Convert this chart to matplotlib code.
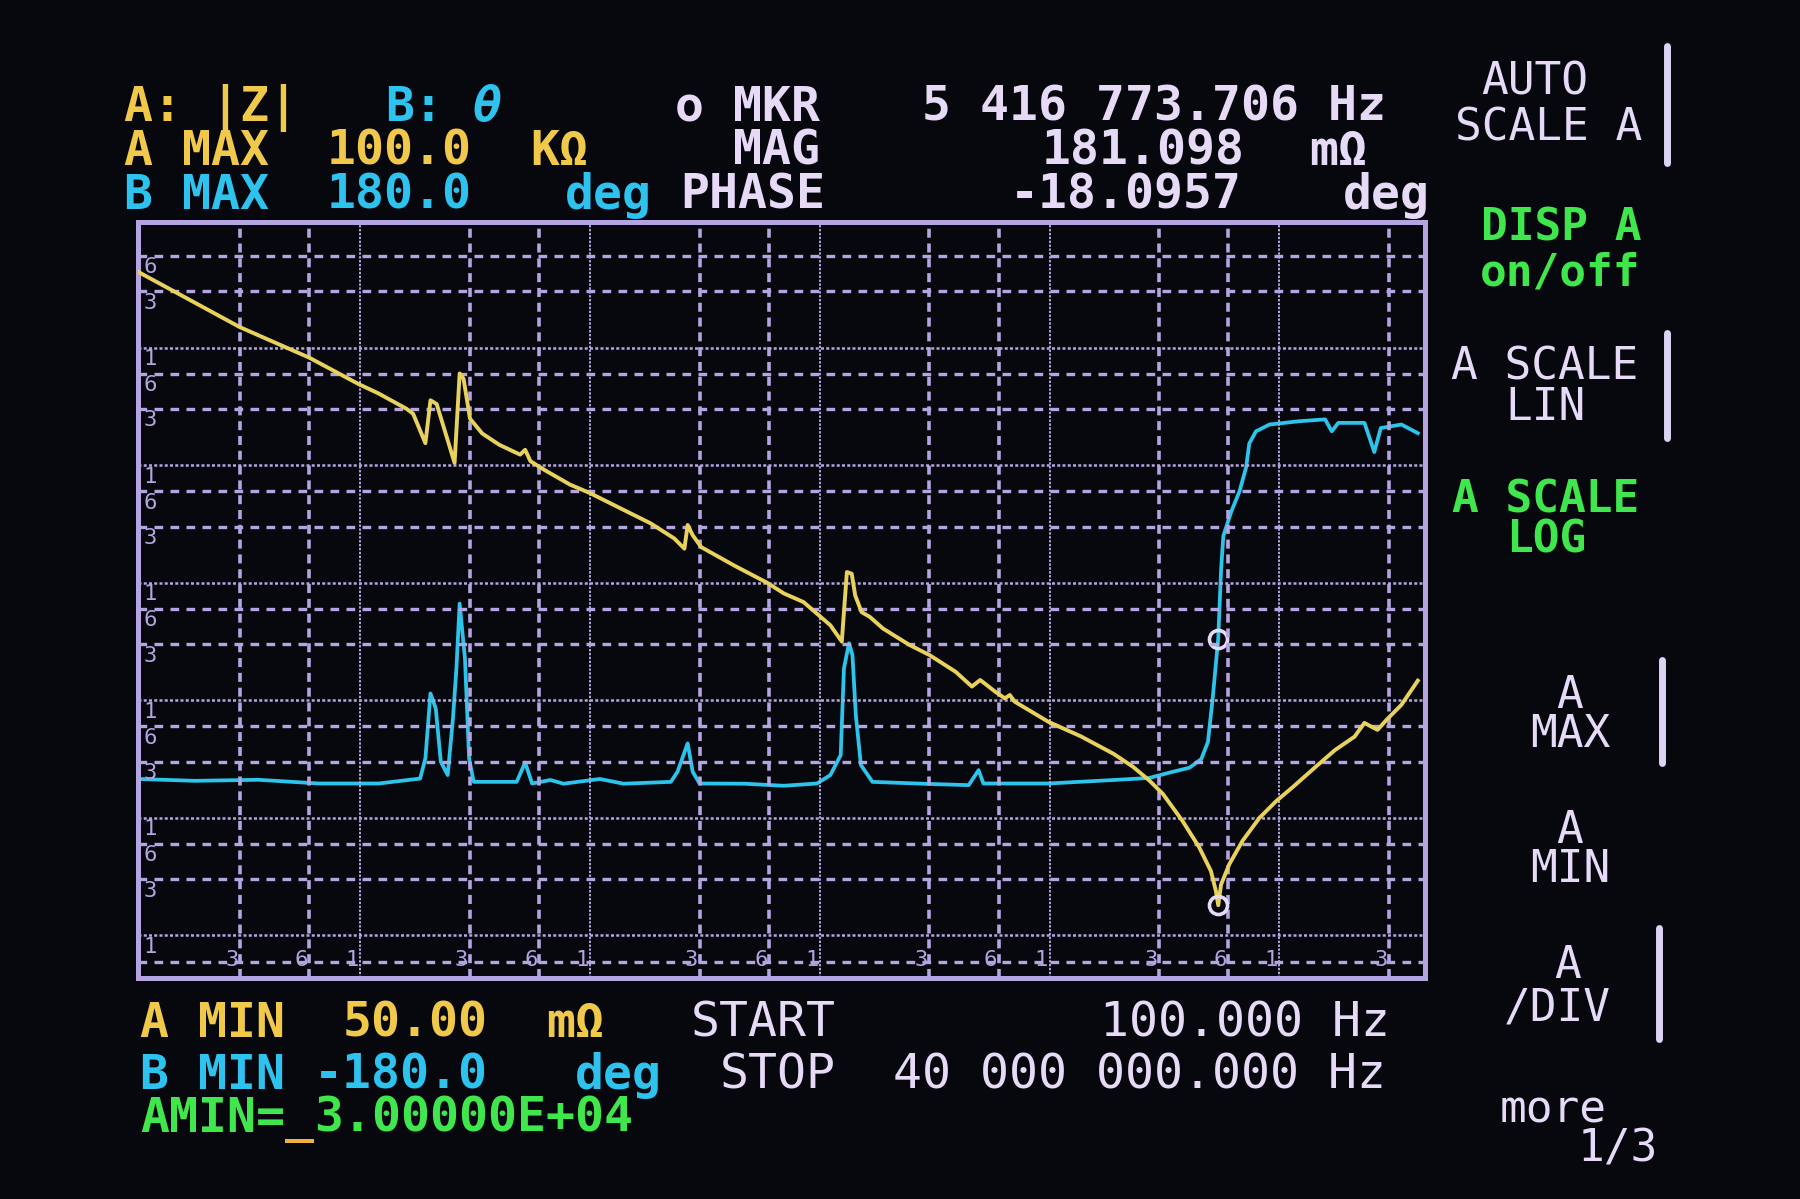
import matplotlib
matplotlib.use("Agg")
import matplotlib.pyplot as plt
import numpy as np

# ---------------- trace A : |Z| (ohm) vs frequency (Hz)
z_freq = [100, 299, 600, 980, 1205, 1590, 1700, 1923, 2023, 2153, 2576, 2710, 2818,
          3006, 3396, 4036, 4966, 5224, 5508, 6295, 8185, 10000, 13060, 18370, 23280,
          25760, 26610, 27990, 30480, 42460, 59020, 69660, 85110, 97270, 111200,
          124700, 131200, 137700, 142600, 152100, 165200, 188400, 245500, 299900,
          389900, 459200, 498900, 578100, 638300, 671400, 704700, 986300, 1368000,
          1897000, 2307000, 2716000, 3112000, 3793000, 4477000, 5035000, 5297000,
          5416774, 5572000, 6053000, 6918000, 8185000, 9683000, 11400000, 14350000,
          17460000, 21230000, 23440000, 25000000, 26730000, 29440000, 33960000, 40000000]
z_ohm = [47900, 14960, 8220, 4920, 4064, 3020, 2742, 1538, 3565, 3311, 1045, 6026, 5433,
         2489, 1862, 1489, 1230, 1352, 1081, 918, 684, 579, 446, 320, 238,
         195, 310, 254, 201, 140, 100, 81.3, 68.4, 54.5, 43.5,
         31.6, 123.3, 119.4, 78.0, 56.2, 51.2, 40.8, 29.6, 24.3,
         17.5, 13.1, 14.9, 11.9, 10.4, 11.1, 9.75, 6.58, 4.94,
         3.51, 2.72, 2.08, 1.60, 0.938, 0.562, 0.353, 0.237,
         0.181, 0.271, 0.404, 0.640, 1.00, 1.39, 1.82, 2.71,
         3.78, 4.91, 6.43, 6.00, 5.61, 6.92, 9.16, 14.7]

# ---------------- trace B : phase (deg)
p_freq = [102, 191, 361, 662, 1205, 1824, 1923, 2023, 2133, 2244, 2404, 2535, 2624,
          2710, 2858, 2979, 3119, 4797, 5224, 5598, 6730, 7674, 11040, 14000, 22490,
          24040, 26610, 27990, 29990, 46880, 69660, 97270, 111200, 123300, 127400,
          134000, 138700, 143500, 151000, 169400, 279900, 444600, 490900, 515200,
          986300, 1897000, 2716000, 3327000, 4064000, 4571000, 4887000, 5129000,
          5416774, 5572000, 5702000, 6166000, 6699000, 7161000, 7396000, 7907000,
          9057000, 12190000, 15810000, 16900000, 18030000, 23440000, 25880000,
          27610000, 33960000, 40000000]
p_deg = [-86.2, -87.2, -86.7, -88.5, -88.5, -86.1, -76.3, -44.7, -52.0, -77.9, -84.4,
         -56.8, -32.5, -1.0, -27.6, -76.3, -87.7, -87.7, -78.3, -88.5, -86.8, -88.6,
         -86.3, -88.6, -87.7, -82.8, -69.0, -82.8, -88.5, -88.6, -89.6, -88.5, -84.4,
         -74.7, -32.5, -20.3, -26.0, -55.2, -79.5, -87.7, -88.6, -89.3, -82.0, -88.5,
         -88.5, -86.8, -85.8, -83.2, -80.8, -76.6, -68.3, -46.6, -18.0957, 15.2, 31.9,
         43.6, 53.5, 65.2, 76.9, 82.8, 86.1, 87.7, 88.6, 82.8, 86.9, 86.9, 72.7, 84.4,
         86.1, 81.9]

# marker readout
mkr_freq = 5416773.706
mkr_ohm = 0.181098
mkr_deg = -18.0957

# grid lines of the screen
gx_major = [1e3, 1e4, 1e5, 1e6, 1e7]
gx_minor = [300, 600, 3e3, 6e3, 3e4, 6e4, 3e5, 6e5, 3e6, 6e6, 3e7]
gy_major = [0.1, 1, 10, 100, 1e3, 1e4]
gy_minor = [0.06, 0.3, 0.6, 3, 6, 30, 60, 300, 600, 3e3, 6e3, 3e4, 6e4]

BG = '#06080e'
YEL = '#f0c84a'
YEL_TR = '#e8d25c'
CYN = '#2ec2ee'
CYN_TR = '#2cc4ea'
LAV = '#e6daf6'
GRN = '#3fe64c'
GRID = '#b4a4e2'
MONO = 'DejaVu Sans Mono'

W, H = 1800, 1199
fig = plt.figure(figsize=(18, 11.99), dpi=100, facecolor=BG)

# plot box: x 138..1425 px, y 222..978 px (photo is a bit out of square,
# so the limits are a best fit of the screen grid)
ax = fig.add_axes([138 / W, 1 - 978 / H, 1287 / W, 756 / H])
ax.set_facecolor(BG)
ax.set_xscale('log')
ax.set_yscale('log')
ax.set_xlim(108, 4.3e7)
ax.set_ylim(0.0435, 1.17e5)
ax.set_xticks(gx_major)
ax.set_xticks(gx_minor, minor=True)
ax.set_yticks(gy_major)
ax.set_yticks(gy_minor, minor=True)
ax.xaxis.set_major_formatter(plt.NullFormatter())
ax.xaxis.set_minor_formatter(plt.NullFormatter())
ax.yaxis.set_major_formatter(plt.NullFormatter())
ax.yaxis.set_minor_formatter(plt.NullFormatter())
ax.tick_params(which='both', length=0)

ax.grid(True, axis='x', which='major', color=GRID, lw=1.4, ls=(0, (1.2, 0.8)))
ax.grid(True, axis='x', which='minor', color=GRID, lw=2.6, ls=(0, (2.5, 1.6)))
ax.grid(True, axis='y', which='major', color=GRID, lw=1.8, ls=(0, (1.2, 0.9)))
ax.grid(True, axis='y', which='minor', color=GRID, lw=2.4, ls=(0, (2.6, 2.2)))
ax.set_axisbelow(True)
for s in ax.spines.values():
    s.set_color(GRID)
    s.set_linewidth(3.6)
    s.set_linestyle((0, (0.7, 0.5)))

# little scale digits drawn inside the box
def lead(v):
    return str(int(round(v / 10 ** np.floor(np.log10(v) + 1e-9))))

for v in gy_major + gy_minor:
    if v < 0.1:
        continue
    ax.annotate(lead(v), xy=(0.004, v), xycoords=('axes fraction', 'data'),
                xytext=(0, -1), textcoords='offset points', ha='left', va='top',
                fontsize=16, family=MONO, color=GRID)
for v in gx_major + gx_minor:
    ax.annotate(lead(v), xy=(v, 0), xycoords=('data', 'axes fraction'),
                xytext=(-1, 6), textcoords='offset points', ha='right', va='bottom',
                fontsize=16, family=MONO, color=GRID)

# phase on its own linear scale (-180 .. 180 over the box)
ax2 = ax.twinx()
ax2.set_ylim(-183.1, 184.6)
ax2.set_yticks([])
for s in ax2.spines.values():
    s.set_visible(False)

ax2.plot(p_freq, p_deg, color=CYN_TR, lw=2.7, solid_joinstyle='round')
ax2.plot([mkr_freq], [mkr_deg], 'o', ms=13, mfc='none', mec=LAV, mew=2.6)
ax.plot(z_freq, z_ohm, color=YEL_TR, lw=2.8, solid_joinstyle='round', zorder=5)
ax.plot([mkr_freq], [mkr_ohm], 'o', ms=13, mfc='none', mec=LAV, mew=2.6, zorder=6)
ax.set_zorder(ax2.get_zorder() + 1)
ax.patch.set_visible(False)
ax2.patch.set_facecolor(BG)
ax2.patch.set_visible(True)


# ---------------- screen text
def put(x, yc, s, color, size=34.7, weight='bold', ha='left', style='normal'):
    px = size * 100 / 72
    fig.text(x / W, 1 - (yc + 0.729 * px / 2) / H, s, color=color, fontsize=size,
             fontweight=weight, family=MONO, ha=ha, va='baseline', style=style)

P = 29.0   # character pitch, px
x0 = 124
put(x0, 103, 'A: |Z|', YEL)
put(x0 + 9 * P, 103, 'B:', CYN)
put(x0 + 12 * P, 103, 'θ', CYN, style='oblique')
put(x0 + 19 * P, 103, 'o MKR', LAV)
put(922, 103, '5 416 773.706 Hz', LAV)

put(x0, 147, 'A MAX', YEL)
put(x0 + 7 * P, 147, '100.0', YEL)
put(x0 + 14 * P, 147, 'KΩ', YEL)
put(x0 + 21 * P, 147, 'MAG', LAV)
put(1042, 147, '181.098', LAV)
put(1309, 147, 'mΩ', LAV)

put(x0, 191, 'B MAX', CYN)
put(x0 + 7 * P, 191, '180.0', CYN)
put(565, 191, 'deg', CYN)
put(680, 191, 'PHASE', LAV)
put(1010, 191, '-18.0957', LAV)
put(1343, 191, 'deg', LAV)

x1 = 140
put(x1, 1019, 'A MIN', YEL)
put(x1 + 7 * P, 1019, '50.00', YEL)
put(x1 + 14 * P, 1019, 'mΩ', YEL)
put(x1 + 19 * P, 1019, 'START', LAV, weight='normal')
put(1100, 1019, '100.000 Hz', LAV, weight='normal')

put(x1, 1071, 'B MIN', CYN)
put(x1 + 6 * P, 1071, '-180.0', CYN)
put(x1 + 15 * P, 1071, 'deg', CYN)
put(x1 + 20 * P, 1071, 'STOP', LAV, weight='normal')
put(893, 1071, '40 000 000.000 Hz', LAV, weight='normal')

put(x1, 1114, 'AMIN=', GRN)
put(x1 + 5 * P, 1114, '_', '#f0b040')
put(x1 + 6 * P, 1114, '3.00000E+04', GRN)

# soft-key menu on the right
MS = 32
put(1535, 78, 'AUTO', LAV, size=MS, weight='normal', ha='center')
put(1549, 124, 'SCALE A', LAV, size=MS, weight='normal', ha='center')
put(1561, 224, 'DISP A', GRN, size=MS, ha='center')
put(1560, 269, 'on/off', GRN, size=MS, ha='center')
put(1545, 363, 'A SCALE', LAV, size=MS, weight='normal', ha='center')
put(1546, 404, 'LIN', LAV, size=MS, weight='normal', ha='center')
put(1546, 496, 'A SCALE', GRN, size=MS, ha='center')
put(1546, 536, 'LOG', GRN, size=MS, ha='center')
put(1570, 692, 'A', LAV, size=MS, weight='normal', ha='center')
put(1570, 731, 'MAX', LAV, size=MS, weight='normal', ha='center')
put(1570, 827, 'A', LAV, size=MS, weight='normal', ha='center')
put(1570, 866, 'MIN', LAV, size=MS, weight='normal', ha='center')
put(1568, 962, 'A', LAV, size=MS, weight='normal', ha='center')
put(1557, 1004, '/DIV', LAV, size=MS, weight='normal', ha='center')
put(1553, 1106, 'more', LAV, size=MS, weight='normal', ha='center')
put(1618, 1145, '1/3', LAV, size=MS, weight='normal', ha='center')

# key separator bars
for bx, b0, b1 in [(1667, 46, 163), (1667, 333, 438), (1662, 660, 763), (1659, 928, 1039)]:
    fig.add_artist(plt.Line2D([bx / W, bx / W], [1 - b0 / H, 1 - b1 / H],
                              transform=fig.transFigure, color='#dcd4f4', lw=5,
                              solid_capstyle='round'))

fig.savefig('out.png', dpi=100, facecolor=BG)
